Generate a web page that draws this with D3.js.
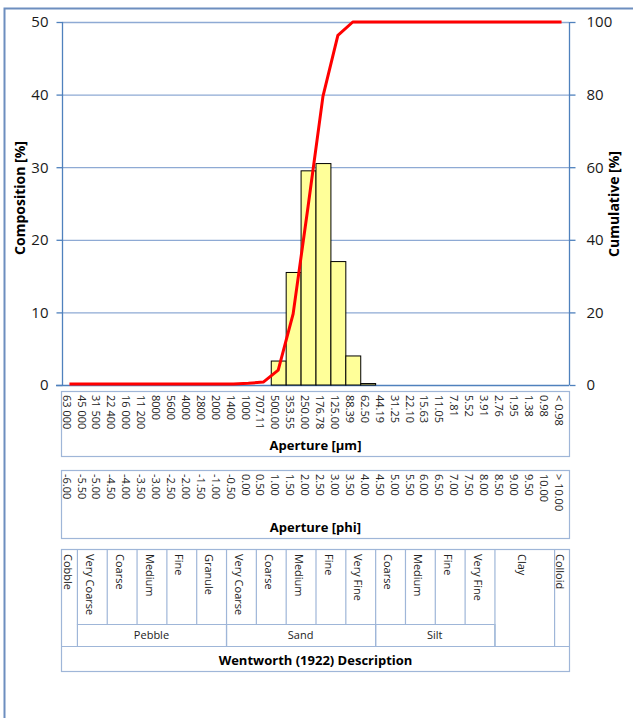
<!DOCTYPE html>
<html>
<head>
<meta charset="utf-8">
<script src="https://cdn.jsdelivr.net/npm/d3@7"></script>
<style>
  html, body { margin: 0; padding: 0; background: #fff; }
  svg { display: block; font-family: "Open Sans", "Noto Sans", sans-serif; }
</style>
</head>
<body>
<svg id="chart" width="633" height="718"></svg>
<script>
// ---------------- data ----------------
const apertureLabels = ["63 000","45 000","31 500","22 400","16 000","11 200","8000","5600","4000","2800","2000","1400","1000","707.11","500.00","353.55","250.00","176.78","125.00","88.39","62.50","44.19","31.25","22.10","15.63","11.05","7.81","5.52","3.91","2.76","1.95","1.38","0.98","< 0.98"];
const phiLabels = ["-6.00","-5.50","-5.00","-4.50","-4.00","-3.50","-3.00","-2.50","-2.00","-1.50","-1.00","-0.50","0.00","0.50","1.00","1.50","2.00","2.50","3.00","3.50","4.00","4.50","5.00","5.50","6.00","6.50","7.00","7.50","8.00","8.50","9.00","9.50","10.00","> 10.00"];
const composition = [0,0,0,0,0,0,0,0,0,0,0,0,0,0,3.3,15.5,29.5,30.5,17.0,4.0,0.2,0,0,0,0,0,0,0,0,0,0,0,0,0];
const cumulative = [0.3,0.3,0.3,0.3,0.3,0.3,0.3,0.3,0.3,0.3,0.3,0.3,0.5,0.8,4.1,19.6,49.1,79.5,96.3,100,100,100,100,100,100,100,100,100,100,100,100,100,100,100];
const leftTicks = [0,10,20,30,40,50];
const rightTicks = [0,20,40,60,80,100];
const wentworthClasses = ["Cobble","Very Coarse","Coarse","Medium","Fine","Granule","Very Coarse","Coarse","Medium","Fine","Very Fine","Coarse","Medium","Fine","Very Fine","Clay","Colloid"];
const wentworthSpans = [1,2,2,2,2,2,2,2,2,2,2,2,2,2,2,4,1];
const wentworthGrouped = [false,true,true,true,true,true,true,true,true,true,true,true,true,true,true,false,false];
const wentworthGroups = ["Pebble","Sand","Silt"];
const wentworthGroupSpans = [10,10,8];
const wentworthGroupStart = [1,11,21];

// ---------------- layout ----------------
const svg = d3.select("#chart");
const L = 62, R = 569, T = 22, B = 385;
const axisCol = "#4f81bd", gridCol = "#8eaad4", boxCol = "#9fb6d8";
const idx = d3.range(apertureLabels.length);

// outer frame
svg.append("rect").attr("x", 4.5).attr("y", 8.5).attr("width", 700).attr("height", 800)
  .attr("fill", "none").attr("stroke", "#6d8ebf").attr("stroke-width", 2);

const x = d3.scaleBand().domain(idx).range([L, R]).padding(0);
const y = d3.scaleLinear().domain([0, 50]).range([B, T]);
const y2 = d3.scaleLinear().domain([0, 100]).range([B, T]);

// gridlines
svg.append("g").selectAll("line").data(leftTicks.filter(d => d > 0)).join("line")
  .attr("x1", L).attr("x2", R).attr("y1", d => y(d) + 0.5).attr("y2", d => y(d) + 0.5)
  .attr("stroke", gridCol).attr("stroke-width", 1.3);

// left axis
const gl = svg.append("g").attr("transform", `translate(${L + 0.5},0)`)
  .call(d3.axisLeft(y).tickValues(leftTicks).tickSize(6).tickPadding(8));
gl.select(".domain").attr("stroke", axisCol).attr("stroke-width", 1.3).attr("d", `M0,${T}V${B}`);
gl.selectAll(".tick line").attr("stroke", axisCol).attr("stroke-width", 1.3);
gl.selectAll(".tick text").attr("font-size", 15).attr("fill", "#1a1a1a").attr("font-family", "Open Sans");

// right axis
const gr = svg.append("g").attr("transform", `translate(${R + 0.5},0)`)
  .call(d3.axisRight(y2).tickValues(rightTicks).tickSize(6).tickPadding(11));
gr.select(".domain").attr("stroke", axisCol).attr("stroke-width", 1.3).attr("d", `M0,${T}V${B}`);
gr.selectAll(".tick line").attr("stroke", axisCol).attr("stroke-width", 1.3);
gr.selectAll(".tick text").attr("font-size", 15).attr("fill", "#1a1a1a").attr("font-family", "Open Sans");

// baseline
svg.append("line").attr("x1", L - 6).attr("x2", R).attr("y1", B + 0.5).attr("y2", B + 0.5)
  .attr("stroke", axisCol).attr("stroke-width", 1.3);

// bars
svg.append("g").selectAll("rect").data(idx.filter(i => composition[i] > 0)).join("rect")
  .attr("x", i => x(i) + 0.5).attr("y", i => y(composition[i]))
  .attr("width", x.bandwidth()).attr("height", i => B - y(composition[i]))
  .attr("fill", "#ffff99").attr("stroke", "#000").attr("stroke-width", 1);

// cumulative line
svg.append("path").datum(idx)
  .attr("d", d3.line().x(i => x(i) + x.bandwidth() / 2).y(i => y2(cumulative[i])))
  .attr("fill", "none").attr("stroke", "#ff0000").attr("stroke-width", 3).attr("stroke-linejoin", "round");

// axis titles
svg.append("text").attr("transform", "translate(25,198) rotate(-90)").attr("text-anchor", "middle")
  .attr("font-size", 14).attr("font-weight", "bold").text("Composition [%]");
svg.append("text").attr("transform", "translate(619,204) rotate(-90)").attr("text-anchor", "middle")
  .attr("font-size", 14).attr("font-weight", "bold").text("Cumulative [%]");

// aperture box
function labelBox(top, bottom, labels, title, titleY) {
  svg.append("rect").attr("x", L - 0.5).attr("y", top + 0.5).attr("width", R - L + 1).attr("height", bottom - top)
    .attr("fill", "none").attr("stroke", boxCol).attr("stroke-width", 1.2);
  svg.append("g").selectAll("text").data(idx).join("text")
    .attr("transform", i => `translate(${x(i) + x.bandwidth() / 2 - 3},${top + 4}) rotate(90)`)
    .attr("dy", "0.35em").attr("font-size", 11).attr("fill", "#222").text(i => labels[i]);
  svg.append("text").attr("x", (L + R) / 2).attr("y", titleY).attr("text-anchor", "middle")
    .attr("font-size", 13).attr("font-weight", "bold").text(title);
}
labelBox(391, 456, apertureLabels, "Aperture [µm]", 450);
labelBox(470, 538, phiLabels, "Aperture [phi]", 532);

// Wentworth table
const tT = 549, tM = 624, tG = 646, tB = 671;
const tab = svg.append("g");
tab.append("rect").attr("x", L - 0.5).attr("y", tT + 0.5).attr("width", R - L + 1).attr("height", tB - tT)
  .attr("fill", "none").attr("stroke", boxCol).attr("stroke-width", 1.2);
tab.append("line").attr("x1", L).attr("x2", R).attr("y1", tG + 0.5).attr("y2", tG + 0.5)
  .attr("stroke", boxCol).attr("stroke-width", 1.2);
let start = 0;
const cells = wentworthClasses.map((c, k) => { const s = start; start += wentworthSpans[k]; return { label: c, s, e: start, grouped: wentworthGrouped[k] }; });
cells.forEach(c => {
  const x0 = x(c.s), x1 = c.e < idx.length ? x(c.e) : R;
  if (c.s > 0) {
    tab.append("line").attr("x1", x0 + 0.5).attr("x2", x0 + 0.5).attr("y1", tT).attr("y2", c.grouped ? tM : tG)
      .attr("stroke", boxCol).attr("stroke-width", 1.2);
  }
  tab.append("text").attr("transform", `translate(${(x0 + x1) / 2 - 2},${tT + 5}) rotate(90)`)
    .attr("dy", "0.35em").attr("font-size", 11).attr("fill", "#222").text(c.label);
});
wentworthGroups.forEach((g, k) => {
  const x0 = x(wentworthGroupStart[k]);
  const e = wentworthGroupStart[k] + wentworthGroupSpans[k];
  const x1 = x(e);
  tab.append("line").attr("x1", x0).attr("x2", x1).attr("y1", tM + 0.5).attr("y2", tM + 0.5)
    .attr("stroke", boxCol).attr("stroke-width", 1.2);
  tab.append("line").attr("x1", x0 + 0.5).attr("x2", x0 + 0.5).attr("y1", tM).attr("y2", tG)
    .attr("stroke", boxCol).attr("stroke-width", 1.2);
  tab.append("line").attr("x1", x1 + 0.5).attr("x2", x1 + 0.5).attr("y1", tM).attr("y2", tG)
    .attr("stroke", boxCol).attr("stroke-width", 1.2);
  tab.append("text").attr("x", (x0 + x1) / 2).attr("y", (tM + tG) / 2).attr("dy", "0.35em")
    .attr("text-anchor", "middle").attr("font-size", 11).attr("fill", "#222").text(g);
});
tab.append("text").attr("x", (L + R) / 2).attr("y", 665).attr("text-anchor", "middle")
  .attr("font-size", 13).attr("font-weight", "bold").text("Wentworth (1922) Description");
</script>
</body>
</html>
